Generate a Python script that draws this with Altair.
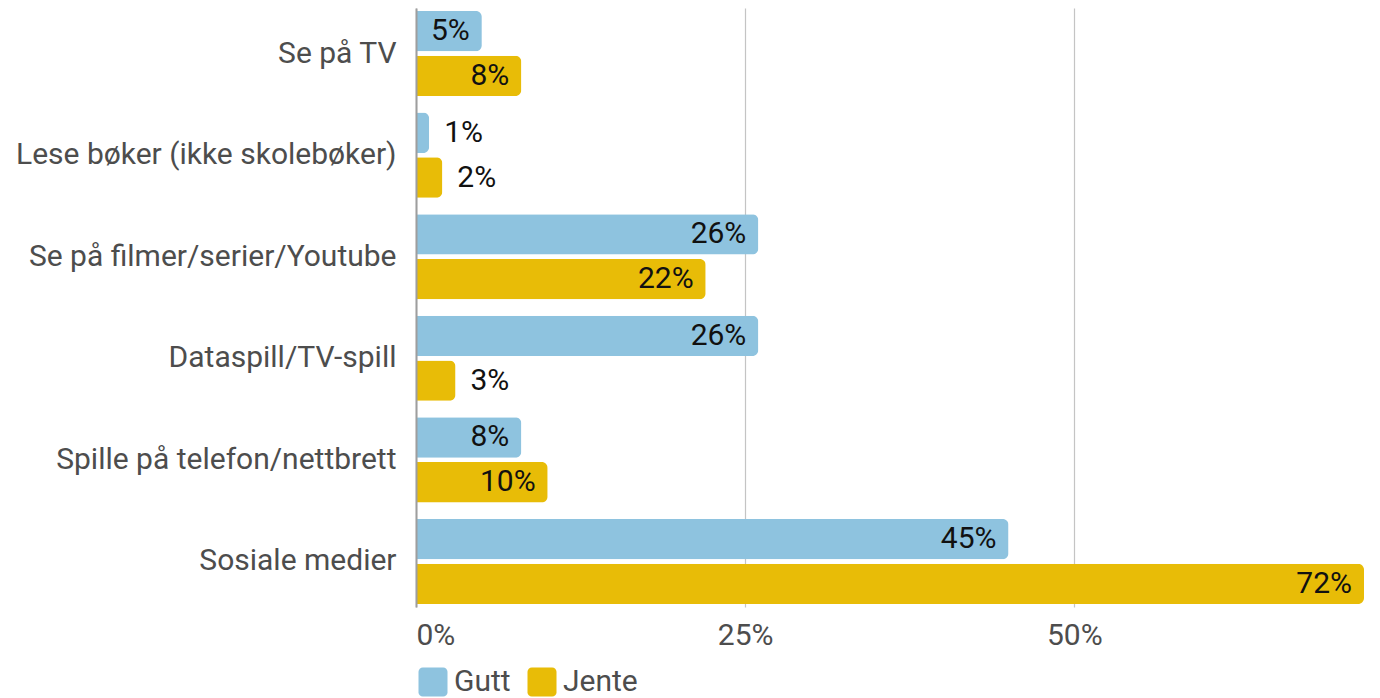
import altair as alt
import pandas as pd

categories = ["Se på TV", "Lese bøker (ikke skolebøker)", "Se på filmer/serier/Youtube",
              "Dataspill/TV-spill", "Spille på telefon/nettbrett", "Sosiale medier"]
series = ["Gutt", "Jente"]
gutt = [0.05, 0.01, 0.26, 0.26, 0.08, 0.45]
jente = [0.08, 0.02, 0.22, 0.03, 0.10, 0.72]
colors = ["#8ec3df", "#e8bc07"]

rows = []
for c, g, j in zip(categories, gutt, jente):
    rows.append({"cat": c, "kjonn": "Gutt", "v": g})
    rows.append({"cat": c, "kjonn": "Jente", "v": j})
df = pd.DataFrame(rows)

FONT = "Roboto"
rounded = ("M-0.7,-1H0.7A0.3,0.3 0 0 1 1,-0.7V0.7A0.3,0.3 0 0 1 0.7,1H-0.7"
           "A0.3,0.3 0 0 1 -1,0.7V-0.7A0.3,0.3 0 0 1 -0.7,-1Z")

y_enc = alt.Y("cat:N", sort=categories, title=None,
              scale=alt.Scale(paddingInner=0.163, paddingOuter=0.03),
              axis=alt.Axis(labelFont=FONT, labelFontSize=30, labelColor="#4d4d4d",
                            labelPadding=20, ticks=False, domainColor="#9e9e9e",
                            domainWidth=2, zindex=1, labelLimit=600))
yoff = alt.YOffset("kjonn:N", sort=series,
                   scale=alt.Scale(paddingInner=0.1, paddingOuter=0))
x_enc = alt.X("v:Q", title=None,
              scale=alt.Scale(domain=[0, 0.72], nice=False),
              axis=alt.Axis(values=[0, 0.25, 0.5], format=".0%", labelFont=FONT,
                            labelFontSize=30, labelColor="#4d4d4d", labelPadding=13,
                            domain=False, ticks=False, grid=True, gridColor="#c4c4c4",
                            gridWidth=1.2, labelFlush=True))

bars = alt.Chart(df).mark_bar(cornerRadiusEnd=6).encode(
    y=y_enc, yOffset=yoff, x=x_enc,
    color=alt.Color("kjonn:N", sort=series, title=None,
                    scale=alt.Scale(domain=series, range=colors),
                    legend=alt.Legend(orient="none", legendX=2, legendY=659,
                                      direction="horizontal", symbolType=rounded,
                                      symbolSize=841, symbolStrokeWidth=0,
                                      labelFont=FONT, labelFontSize=30,
                                      labelColor="#4d4d4d", labelOffset=6,
                                      columnPadding=16)),
)

inside = alt.Chart(df).transform_filter("datum.v >= 0.05").mark_text(
    align="right", baseline="middle", dx=-12, font=FONT, fontSize=30, color="#111111"
).encode(y=alt.Y("cat:N", sort=categories), yOffset=yoff, x="v:Q",
         text=alt.Text("v:Q", format=".0%"))

outside = alt.Chart(df).transform_filter("datum.v < 0.05").mark_text(
    align="left", baseline="middle", dx=15, font=FONT, fontSize=30, color="#111111"
).encode(y=alt.Y("cat:N", sort=categories), yOffset=yoff, x="v:Q",
         text=alt.Text("v:Q", format=".0%"))

chart = alt.layer(bars, inside, outside).properties(
    width=948, height=599,
    autosize=alt.AutoSizeParams(type="none"),
    padding={"left": 408, "top": 0, "right": 8, "bottom": 90},
).configure_view(stroke=None)

chart.save("out.html", embed_options={"renderer": "svg", "actions": False})
